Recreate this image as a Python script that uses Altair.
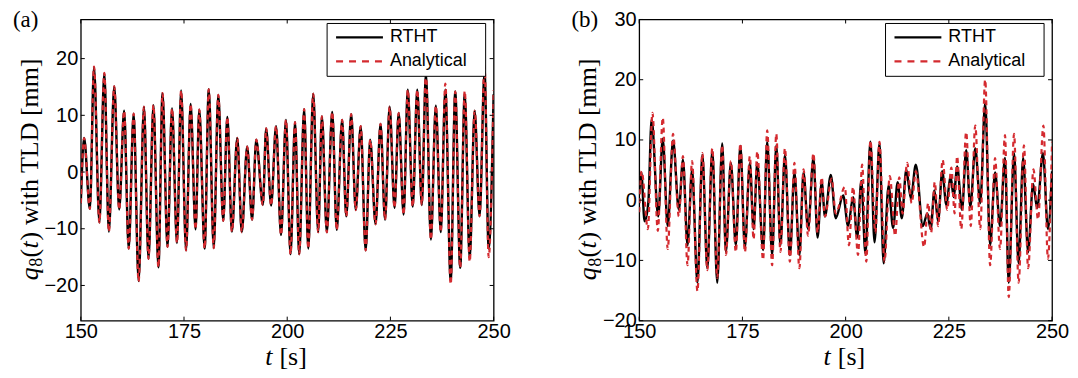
import altair as alt
import pandas as pd

SANS = "Liberation Sans"
SERIF = "Liberation Serif"
RED = "#d42a2f"

X_TICKS = [150, 175, 200, 225, 250]
A_YTICKS = [-20, -10, 0, 10, 20]
B_YTICKS = [-20, -10, 0, 10, 20, 30]

# ---- panel (a): extrema ----
a_t = [150.0, 150.8, 152.2, 153.2, 154.5, 155.7, 156.8, 158.1, 159.3, 160.5,
       161.6, 162.8, 164.0, 165.3, 166.4, 167.6, 168.8, 169.8, 171.0, 172.1,
       173.3, 174.3, 175.5, 176.6, 177.8, 178.7, 180.0, 181.0, 182.2, 183.3,
       184.5, 185.5, 186.6, 187.9, 189.0, 190.3, 191.5, 192.5, 194.1, 194.9,
       196.1, 197.3, 198.5, 199.7, 200.8, 201.9, 202.9, 204.1, 205.1, 206.3,
       207.5, 208.4, 209.6, 210.9, 212.0, 213.3, 214.3, 215.5, 216.6, 217.8,
       219.0, 220.1, 221.4, 222.6, 223.7, 224.8, 226.0, 227.0, 228.2, 229.2,
       230.4, 231.5, 232.6, 233.6, 234.8, 236.0, 237.2, 238.3, 239.6, 240.7,
       241.9, 243.0, 244.2, 245.4, 246.6, 247.8, 248.8, 250.0]
a_rtht = [-5.5, 6.0, -6.5, 18.5, -8.9, 17.4, -10.5, 15.1, -6.6, 10.8,
          -13.5, 10.3, -19.2, 11.5, -15.3, 11.8, -16.8, 13.9, -13.2, 11.2,
          -12.5, 14.4, -13.8, 12.0, -10.1, 11.0, -13.5, 14.6, -13.4, 13.6,
          -8.6, 9.7, -10.5, 6.0, -10.6, 4.5, -8.4, 5.7, -5.8, 7.7,
          -5.9, 8.1, -11.1, 9.2, -14.5, 8.8, -14.5, 11.1, -13.5, 13.8,
          -10.6, 9.8, -10.6, 10.6, -10.2, 9.2, -7.8, 10.2, -6.7, 8.1,
          -13.8, 5.7, -9.2, 8.5, -8.4, 11.5, -6.3, 10.4, -7.5, 14.5,
          -6.1, 14.5, -5.8, 17.4, -11.9, 11.7, -10.6, 14.5, -19.2, 14.2,
          -16.9, 13.8, -15.3, 10.8, -7.8, 17.7, -13.5, 13.7]
a_anal = [-5.5, 6.0, -6.5, 18.6, -8.9, 17.5, -10.5, 15.1, -6.6, 10.8,
          -13.5, 10.3, -19.3, 11.5, -15.3, 11.8, -16.8, 13.9, -13.2, 11.2,
          -12.5, 14.4, -13.8, 12.0, -10.1, 11.0, -13.5, 14.6, -13.4, 13.6,
          -8.6, 9.7, -10.5, 6.0, -10.6, 4.5, -8.4, 5.7, -5.8, 7.7,
          -5.9, 8.1, -11.1, 9.2, -14.5, 8.8, -14.5, 11.1, -13.5, 13.8,
          -10.6, 9.8, -10.6, 10.6, -10.2, 9.2, -7.8, 10.2, -6.7, 8.1,
          -13.8, 5.7, -9.2, 8.5, -8.4, 11.5, -6.3, 10.4, -7.5, 14.5,
          -6.1, 14.5, -5.8, 17.4, -11.9, 11.7, -10.6, 15.6, -19.8, 14.2,
          -16.9, 14.3, -15.8, 10.8, -7.8, 18.8, -15.0, 14.4]

# ---- panel (b) ----
b_rtht_t = [150.0, 150.5, 151.3, 152.2, 153.0, 154.6, 155.7, 156.9, 158.2, 159.6,
            160.6, 161.7, 162.8, 164.1, 165.3, 166.5, 167.7, 168.9, 170.1, 171.0,
            172.2, 173.4, 174.5, 175.6, 176.8, 177.7, 178.6, 180.0, 181.0, 182.2,
            183.2, 184.2, 185.3, 186.5, 187.6, 188.8, 189.8, 190.9, 192.2, 193.2,
            194.2, 195.0, 196.4, 197.6, 199.4, 200.6, 201.8, 202.8, 203.8, 204.8,
            206.0, 207.0, 208.2, 209.2, 210.4, 211.5, 212.6, 213.6, 214.7, 215.8,
            217.0, 218.7, 219.8, 220.6, 221.5, 222.4, 223.4, 224.4, 225.4, 226.2,
            227.0, 228.2, 229.2, 230.2, 231.4, 232.6, 233.8, 235.0, 236.2, 237.4,
            238.6, 239.5, 240.8, 241.9, 243.0, 244.2, 245.4, 246.4, 247.8, 249.0,
            250.0]
b_rtht = [1.0, 4.6, -3.5, -0.5, 13.4, -2.7, 10.2, -4.3, 9.9, -1.6,
          6.7, -7.5, 5.1, -13.7, 7.5, -11.3, 8.2, -13.7, 9.4, -8.6,
          6.2, -7.5, 9.0, -7.8, 6.2, -4.8, 6.2, -8.3, 9.7, -9.1,
          9.1, -7.5, 7.5, -9.1, 4.6, -9.1, 4.6, -4.8, 7.0, -6.2,
          3.0, -2.7, 4.2, -3.0, 0.8, -4.3, 0.5, -6.2, 3.2, -8.9,
          9.7, -7.0, 9.4, -10.5, 2.4, -4.6, 3.0, -3.0, 5.1, 0.3,
          5.9, -4.3, -2.2, -4.8, 1.6, -3.5, 4.8, -0.8, 4.0, 0.5,
          5.6, -1.6, 8.3, -1.1, 8.6, -0.5, 16.1, -7.5, 4.6, -4.3,
          7.0, -13.7, 7.8, -10.5, 7.0, -8.6, 2.7, -1.3, 7.8, -4.8,
          4.8]
b_anal_t = [150.0, 150.6, 152.1, 153.2, 154.5, 155.7, 156.9, 158.2, 159.6, 160.6,
            161.7, 162.8, 164.1, 165.3, 166.5, 167.7, 168.9, 170.1, 171.0, 172.2,
            173.4, 174.5, 175.6, 176.8, 177.7, 178.6, 180.0, 181.0, 182.2, 183.2,
            184.2, 185.3, 186.5, 187.6, 188.8, 189.8, 190.9, 192.2, 193.2, 194.2,
            195.0, 196.6, 197.6, 199.8, 200.8, 201.8, 203.0, 204.0, 205.0, 206.0,
            207.2, 208.2, 209.4, 210.7, 212.0, 213.0, 213.8, 214.9, 216.0, 217.0,
            219.0, 220.0, 220.7, 221.6, 222.4, 223.5, 224.6, 225.6, 226.4, 227.0,
            228.0, 229.2, 230.3, 231.4, 232.6, 233.8, 235.0, 236.2, 237.4, 238.6,
            239.5, 240.8, 241.9, 243.2, 244.2, 245.5, 246.6, 247.9, 249.0, 250.0]
b_anal = [-2.0, 4.8, -4.8, 14.5, -5.1, 13.7, -8.1, 11.0, -2.7, 7.3,
          -10.8, 6.5, -15.1, 7.8, -11.6, 8.6, -12.9, 9.1, -9.1, 6.5,
          -8.6, 9.4, -8.6, 7.3, -6.5, 8.1, -9.9, 11.6, -10.8, 11.0,
          -8.6, 8.6, -10.2, 6.2, -11.3, 5.1, -5.9, 7.8, -5.4, 3.8,
          -2.7, 3.6, -2.2, 2.2, -7.5, 2.2, -9.1, 5.9, -10.2, 9.9,
          -5.4, 9.7, -10.2, 4.0, -5.9, 3.8, -2.2, 6.2, -0.5, 4.8,
          -7.8, -0.5, -5.4, 3.0, -4.3, 6.7, -1.6, 5.4, -2.2, 7.3,
          -4.8, 11.3, -4.3, 12.4, -4.8, 20.0, -10.8, 7.0, -8.1, 10.8,
          -16.1, 11.0, -13.7, 9.1, -11.3, 5.1, -3.2, 12.4, -9.7, 9.7]

SERIES = ["RTHT", "Analytical"]
PANEL_TAGS = ["(a)", "(b)"]
# y-axis title pieces: q (italic), 8 (subscript), "(", t (italic), ")", rest
Y_TITLE_PARTS = ["q", "8", "(", "t", ")", "with TLD [mm]"]
# x-axis title pieces: t (italic), "[s]"
X_TITLE_PARTS = ["t", "[s]"]

W = 414
H = 302
FY = 26     # y-title font size
FX = 26     # x-title font size


def txt(x, y, s, size, style="normal", angle=0, align="left", baseline="alphabetic",
        font=SERIF):
    one = pd.DataFrame({"k": [0]})
    return alt.Chart(one).mark_text(align=align, baseline=baseline, font=font,
                                    fontSize=size, fontStyle=style, angle=angle,
                                    color="black").encode(
        x=alt.value(x), y=alt.value(y), text=alt.value(s))


def make_panel(t_r, v_r, t_an, v_an, ydom, yticks, tag):
    xs = alt.Scale(domain=[150, 250], nice=False, zero=False)
    ys = alt.Scale(domain=ydom, nice=False, zero=False)
    xax = alt.Axis(values=X_TICKS, title=None, ticks=False, domain=False, grid=False,
                   labelFont=SANS, labelFontSize=20, labelColor="black", labelPadding=1,
                   labelFlush=False, labelOverlap=False)
    yax = alt.Axis(values=yticks, title=None, ticks=False, domain=False, grid=False,
                   labelFont=SANS, labelFontSize=20, labelColor="black", labelPadding=3,
                   labelOverlap=False)
    ex = alt.X("t:Q", scale=xs, axis=xax)
    ey = alt.Y("v:Q", scale=ys, axis=yax)

    df_r = pd.DataFrame({"t": t_r, "v": v_r})
    df_a = pd.DataFrame({"t": t_an, "v": v_an})
    line_r = alt.Chart(df_r).mark_line(interpolate="monotone", color="black",
                                       strokeWidth=2.4, clip=True).encode(x=ex, y=ey)
    line_a = alt.Chart(df_a).mark_line(interpolate="monotone", color=RED, strokeWidth=2.2,
                                       strokeDash=[5, 4], clip=True).encode(x=ex, y=ey)

    xt = pd.DataFrame({"t": X_TICKS})
    yt = pd.DataFrame({"v": yticks})
    tick_b = alt.Chart(xt).mark_rule(color="black", strokeWidth=1).encode(
        x=ex, y=alt.value(H), y2=alt.value(H - 4))
    tick_t = alt.Chart(xt).mark_rule(color="black", strokeWidth=1).encode(
        x=ex, y=alt.value(0), y2=alt.value(4))
    tick_l = alt.Chart(yt).mark_rule(color="black", strokeWidth=1).encode(
        y=ey, x=alt.value(0), x2=alt.value(4))
    tick_r = alt.Chart(yt).mark_rule(color="black", strokeWidth=1).encode(
        y=ey, x=alt.value(W - 4), x2=alt.value(W))

    one = pd.DataFrame({"k": [0]})
    box = alt.Chart(one).mark_rect(fill="white", stroke="black", strokeWidth=1).encode(
        x=alt.value(W - 167), x2=alt.value(W - 8), y=alt.value(4), y2=alt.value(57))
    leg_r = alt.Chart(one).mark_rule(color="black", strokeWidth=2.2).encode(
        x=alt.value(W - 158), x2=alt.value(W - 111), y=alt.value(18))
    leg_a = alt.Chart(one).mark_rule(color=RED, strokeWidth=2.2, strokeDash=[7, 6]).encode(
        x=alt.value(W - 158), x2=alt.value(W - 111), y=alt.value(42))
    txt_r = txt(W - 104, 18, SERIES[0], 18, baseline="middle", font=SANS)
    txt_a = txt(W - 104, 42, SERIES[1], 18, baseline="middle", font=SANS)
    tag_t = txt(-68, -10, tag, 23, baseline="top")

    # y title, rotated, reading upwards; piece offsets follow Times metrics
    bx = -43
    total = 8.5 * FY
    y0 = H / 2 + total / 2
    o_8 = 0.52 * FY
    o_p1 = o_8 + 0.36 * FY
    o_t = o_p1 + 0.34 * FY
    o_p2 = o_t + 0.31 * FY
    o_rest = o_p2 + 0.60 * FY
    yq = txt(bx, y0, Y_TITLE_PARTS[0], FY, style="italic", angle=270)
    y8 = txt(bx + 0.17 * FY, y0 - o_8, Y_TITLE_PARTS[1], 0.7 * FY, angle=270)
    yp1 = txt(bx, y0 - o_p1, Y_TITLE_PARTS[2], FY, angle=270)
    yt_ = txt(bx, y0 - o_t, Y_TITLE_PARTS[3], FY, style="italic", angle=270)
    yp2 = txt(bx, y0 - o_p2, Y_TITLE_PARTS[4], FY, angle=270)
    yrest = txt(bx, y0 - o_rest, Y_TITLE_PARTS[5], FY, angle=270)

    # x title
    x0 = W / 2 - 0.85 * FX
    xty = H + 44
    xt1 = txt(x0, xty, X_TITLE_PARTS[0], FX, style="italic")
    xt2 = txt(x0 + 0.55 * FX, xty, X_TITLE_PARTS[1], FX)

    return alt.layer(line_r, line_a, tick_b, tick_t, tick_l, tick_r,
                     box, leg_r, leg_a, txt_r, txt_a, tag_t,
                     yq, y8, yp1, yt_, yp2, yrest, xt1, xt2).properties(width=W, height=H)


pa = make_panel(a_t, a_rtht, a_t, a_anal, [-26.2, 26.9], A_YTICKS, PANEL_TAGS[0])
pb = make_panel(b_rtht_t, b_rtht, b_anal_t, b_anal, [-20, 30], B_YTICKS, PANEL_TAGS[1])

chart = alt.hconcat(pa, pb, spacing=146, bounds="flush").properties(
    padding={"left": 4, "top": 0, "right": 0, "bottom": 0}
).configure_view(stroke="black", strokeWidth=1.3)

chart.save("out.html", embed_options={"renderer": "svg", "actions": False})
